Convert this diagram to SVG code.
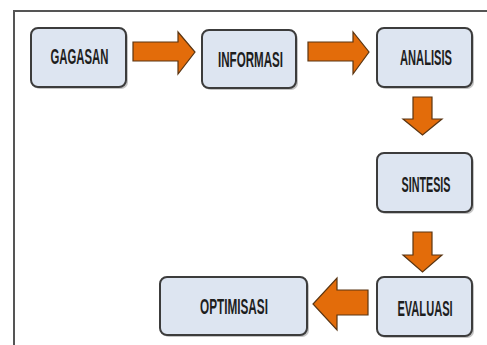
<svg xmlns="http://www.w3.org/2000/svg" width="487" height="345" viewBox="0 0 487 345">
  <defs>
    <style>
      .box { fill: #dde5f1; stroke: #3c3c3c; stroke-width: 2; }
      .shadow { fill: #8a8a8a; opacity: 0.5; }
      .lbl { font-family: "Liberation Sans", Arial, sans-serif; font-weight: bold; font-size: 22px; fill: #1e1e1e; text-anchor: middle; }
      .arr { fill: #e36c0a; stroke: #5a3512; stroke-width: 1.2; stroke-linejoin: miter; }
      .frame { stroke: #555; stroke-width: 2; fill: none; }
    </style>
  </defs>
  <rect width="487" height="345" fill="#ffffff"/>
  <path class="frame" d="M14,345 V11 H487"/>

  <g id="connectors">
    <polygon class="arr" points="133,42 178,42 178,32 195,52 178,74 178,61 133,61"/>
    <polygon class="arr" points="308,42 353,42 353,32 369,52 353,74 353,61 308,61"/>
    <polygon class="arr" points="413,97 432,97 432,119 442,119 422.5,135 403,119 413,119"/>
    <polygon class="arr" points="413,232 432,232 432,255 442,255 422.5,272 403,255 413,255"/>
    <polygon class="arr" points="368,290 337,290 337,278 313,304 337,330 337,315 368,315"/>
  </g>

  <g id="gagasan">
    <rect class="shadow" x="33" y="30" width="95" height="59" rx="7"/>
    <rect class="box" x="31" y="28" width="95" height="59" rx="7"/>
    <text class="lbl" transform="translate(79.5,64) scale(0.516,1)">GAGASAN</text>
  </g>
  <g id="informasi">
    <rect class="shadow" x="204" y="32" width="94" height="58" rx="7"/>
    <rect class="box" x="202" y="30" width="94" height="58" rx="7"/>
    <text class="lbl" transform="translate(250.5,67) scale(0.527,1)">INFORMASI</text>
  </g>
  <g id="analisis">
    <rect class="shadow" x="379" y="30" width="95" height="59" rx="7"/>
    <rect class="box" x="377" y="28" width="95" height="59" rx="7"/>
    <text class="lbl" transform="translate(426,65) scale(0.506,1)">ANALISIS</text>
  </g>
  <g id="sintesis">
    <rect class="shadow" x="379" y="155" width="95" height="59" rx="7"/>
    <rect class="box" x="377" y="153" width="95" height="59" rx="7"/>
    <text class="lbl" transform="translate(426,192) scale(0.49,1)">SINTESIS</text>
  </g>
  <g id="evaluasi">
    <rect class="shadow" x="379" y="279" width="95" height="59" rx="7"/>
    <rect class="box" x="377" y="277" width="95" height="59" rx="7"/>
    <text class="lbl" transform="translate(425,316) scale(0.504,1)">EVALUASI</text>
  </g>
  <g id="optimisasi">
    <rect class="shadow" x="162" y="279" width="147" height="58" rx="7"/>
    <rect class="box" x="160" y="277" width="147" height="58" rx="7"/>
    <text class="lbl" transform="translate(234,314) scale(0.535,1)">OPTIMISASI</text>
  </g>
</svg>
